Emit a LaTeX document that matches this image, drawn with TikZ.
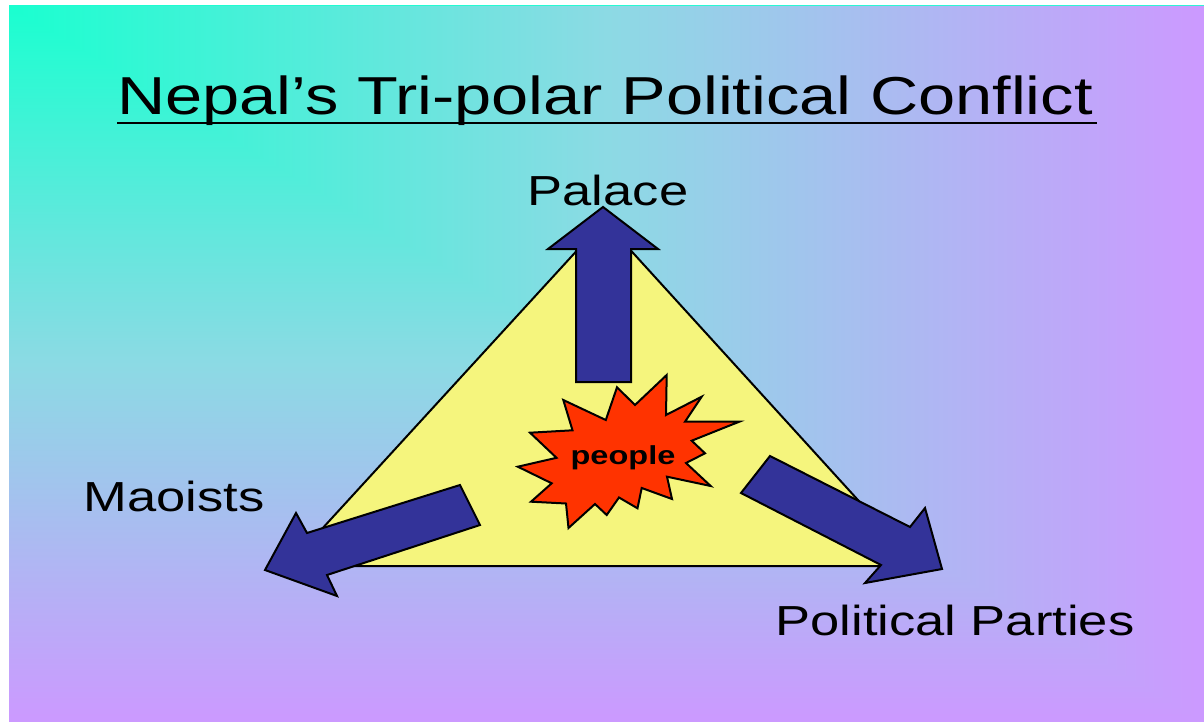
\documentclass[tikz,border=0pt]{standalone}
\usepackage{fontspec}
\setmainfont{Liberation Sans}
\usepackage{graphicx}
\definecolor{bgteal}{RGB}{26,255,208}
\definecolor{bgmid}{RGB}{140,218,228}
\definecolor{bgpurple}{RGB}{204,153,255}
\definecolor{triyellow}{RGB}{245,245,125}
\definecolor{arrowblue}{RGB}{51,51,153}
\definecolor{burstred}{RGB}{255,51,0}
\pgfdeclarehorizontalshading{bgh}{100bp}{color(0bp)=(bgteal); color(25bp)=(bgteal); color(50bp)=(bgmid); color(75bp)=(bgpurple); color(100bp)=(bgpurple)}
\pgfdeclareverticalshading{bgv}{100bp}{color(0bp)=(bgpurple); color(25bp)=(bgpurple); color(50bp)=(bgmid); color(75bp)=(bgteal); color(100bp)=(bgteal)}
\begin{document}
\begin{tikzpicture}[x=1pt,y=-1pt,
  blockarrow/.style={fill=arrowblue,draw=black,line width=2pt,line join=miter},
  lbl/.style={inner sep=0pt,anchor=base,font=\fontsize{42}{48}\selectfont},
  outline/.style={draw=black,line width=2pt,line join=miter}]
\useasboundingbox (0,0) rectangle (1204,722);
\fill[white] (0,0) rectangle (1204,722);
% background: corner gradient
\shade[shading=bgv] (9,6) rectangle (1204,722);
\begin{scope}
  \clip (9,6) -- (1204,6) -- (1204,722) -- cycle;
  \shade[shading=bgh] (9,6) rectangle (1204,722);
\end{scope}
% title
\node[inner sep=0pt,anchor=base west,font=\fontsize{53.4}{60}\selectfont] (title) at (117,115)
  {\scalebox{1.25}[1]{Nepal’s Tri-polar Political Conflict}};
\draw[line width=2.5pt] ([yshift=-8pt]title.base west) -- ([xshift=4pt,yshift=-8pt]title.base east);
% triangle
\path[outline,fill=triyellow] (604,221) -- (918,566) -- (288,566) -- cycle;
% arrows
\path[blockarrow] (603,207) -- (658,249) -- (631,249) -- (631,382) -- (576,382) -- (576,249) -- (548,249) -- cycle;
\path[blockarrow] (265,570) -- (296,513) -- (307,533) -- (460,485) -- (480,525) -- (327,575) -- (337,596) -- cycle;
\path[blockarrow] (770,456) -- (910,527) -- (925,508) -- (942,569) -- (865,583) -- (881,565) -- (741,493) -- cycle;
% starburst
\path[outline,fill=burstred] (666.7,375) -- (666,415) -- (701.7,396.7) -- (685,421.7) -- (739.3,421.7)
  -- (691.7,440.7) -- (705,453.3) -- (686,463) -- (710.7,486) -- (667,476.7) -- (672,499)
  -- (641.7,488) -- (637.5,508.3) -- (619,497.5) -- (606.7,515) -- (595,504) -- (568.5,528)
  -- (566,503.5) -- (531,501.7) -- (551.7,483.3) -- (517.8,466.7) -- (556.5,457.8) -- (530,432.7)
  -- (572.5,430.3) -- (563.3,400) -- (605.8,420) -- (617,387.3) -- (635,405) -- cycle;
\node[inner sep=0pt,anchor=base,font=\bfseries\fontsize{26}{30}\selectfont] (people) at (623,464)
  {\scalebox{1.25}[1]{people}};
% labels
\node[lbl] (palace) at (608,205) {\scalebox{1.25}[1]{Palace}};
\node[lbl] (maoists) at (174,511) {\scalebox{1.25}[1]{Maoists}};
\node[lbl] (parties) at (955,635) {\scalebox{1.25}[1]{Political Parties}};
\end{tikzpicture}
\end{document}
